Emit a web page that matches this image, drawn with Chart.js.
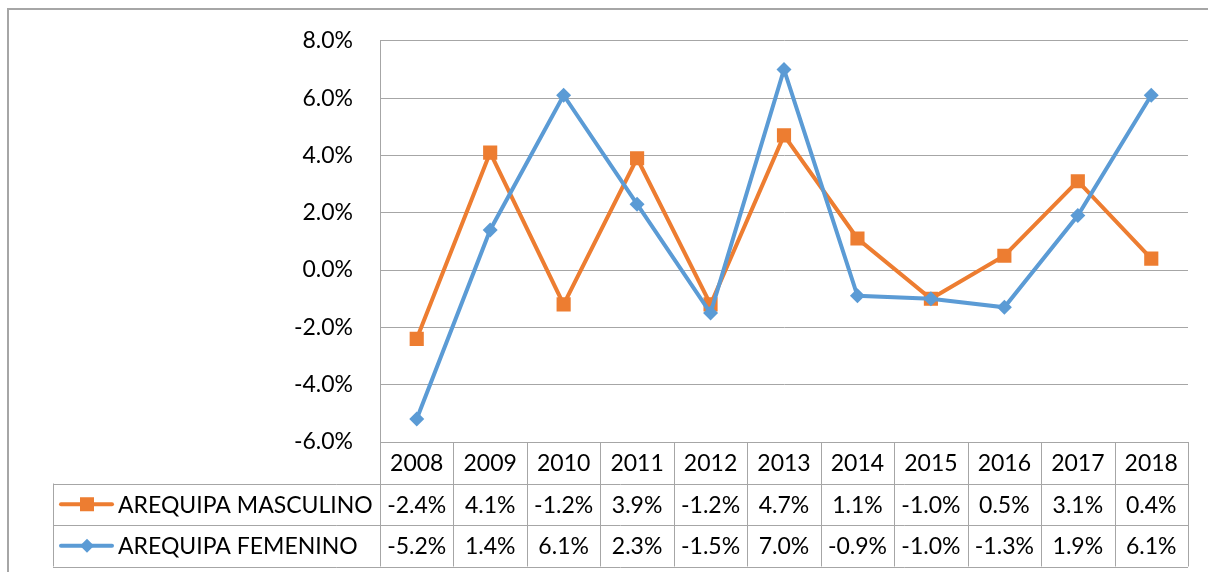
<!DOCTYPE html>
<html>
<head>
<meta charset="utf-8">
<script src="https://cdn.jsdelivr.net/npm/chart.js@4.4.1/dist/chart.umd.min.js"></script>
<style>
  html, body { margin: 0; padding: 0; background: #ffffff; }
  #wrap { width: 1208px; height: 572px; }
</style>
</head>
<body>
<div id="wrap"><canvas id="chart" width="1208" height="572"></canvas></div>
<script>
// Annual variation, Arequipa, by sex (percent)
const years = ['2008', '2009', '2010', '2011', '2012', '2013', '2014', '2015', '2016', '2017', '2018'];
const masculino = [-2.4, 4.1, -1.2, 3.9, -1.2, 4.7, 1.1, -1.0, 0.5, 3.1, 0.4];
const femenino = [-5.2, 1.4, 6.1, 2.3, -1.5, 7.0, -0.9, -1.0, -1.3, 1.9, 6.1];
const seriesNames = ['AREQUIPA MASCULINO', 'AREQUIPA FEMENINO'];

const ORANGE = '#ED7D31';
const BLUE = '#5B9BD5';
const GRID = '#a6a6a6';
const FONT = 'Lato, "Liberation Sans", sans-serif';
const FONT_SIZE = 23;

const pct = v => v.toFixed(1) + '%';

// Outer frame of the chart object
const framePlugin = {
  id: 'frame',
  beforeDraw(chart) {
    const ctx = chart.ctx;
    ctx.save();
    ctx.fillStyle = '#ffffff';
    ctx.fillRect(0, 0, chart.width, chart.height);
    ctx.fillStyle = '#a6a6a6';
    ctx.fillRect(7, 8, chart.width - 7, 2);
    ctx.fillRect(7, 8, 2, chart.height - 8);
    ctx.restore();
  }
};

// Data table under the plot, with legend keys in the first column
const tablePlugin = {
  id: 'dataTable',
  afterDraw(chart) {
    const ctx = chart.ctx;
    const x = chart.scales.x;
    const area = chart.chartArea;
    const colW = (area.right - area.left) / years.length;
    const top = area.bottom;
    const rowH = 41.5;
    const rows = [top, top + rowH, top + 2 * rowH, top + 3 * rowH];
    const legendLeft = 53;

    ctx.save();
    ctx.strokeStyle = GRID;
    ctx.lineWidth = 1;
    ctx.beginPath();
    // horizontal rules
    ctx.moveTo(area.left, Math.round(rows[0]) + 0.5);
    ctx.lineTo(area.right, Math.round(rows[0]) + 0.5);
    for (let r = 1; r < rows.length; r++) {
      const y = Math.round(rows[r]) + 0.5;
      ctx.moveTo(legendLeft, y);
      ctx.lineTo(area.right, y);
    }
    // vertical rules
    for (let i = 0; i <= years.length; i++) {
      const cx = Math.round(area.left + i * colW) + 0.5;
      ctx.moveTo(cx, rows[0]);
      ctx.lineTo(cx, rows[3]);
    }
    ctx.moveTo(legendLeft + 0.5, rows[1]);
    ctx.lineTo(legendLeft + 0.5, rows[3]);
    ctx.stroke();

    ctx.fillStyle = '#000000';
    ctx.font = FONT_SIZE + 'px ' + FONT;
    ctx.textAlign = 'center';
    ctx.textBaseline = 'middle';
    years.forEach((yr, i) => {
      ctx.fillText(yr, x.getPixelForValue(i), (rows[0] + rows[1]) / 2 + 1);
    });
    const values = [masculino, femenino];
    values.forEach((arr, r) => {
      const cy = (rows[r + 1] + rows[r + 2]) / 2 + 1;
      arr.forEach((v, i) => {
        ctx.fillText(pct(v), x.getPixelForValue(i), cy);
      });
    });

    // legend keys
    const keyColors = [ORANGE, BLUE];
    seriesNames.forEach((name, r) => {
      const cy = (rows[r + 1] + rows[r + 2]) / 2;
      ctx.strokeStyle = keyColors[r];
      ctx.lineWidth = 4;
      ctx.lineCap = 'round';
      ctx.beginPath();
      ctx.moveTo(61, cy);
      ctx.lineTo(112, cy);
      ctx.stroke();
      ctx.fillStyle = keyColors[r];
      if (r === 0) {
        ctx.fillRect(87 - 7, cy - 7, 14, 14);
      } else {
        ctx.beginPath();
        ctx.moveTo(87, cy - 7);
        ctx.lineTo(94, cy);
        ctx.lineTo(87, cy + 7);
        ctx.lineTo(80, cy);
        ctx.closePath();
        ctx.fill();
      }
      ctx.fillStyle = '#000000';
      ctx.textAlign = 'left';
      ctx.fillText(name, 118, cy + 1);
    });
    ctx.restore();
  }
};

new Chart(document.getElementById('chart'), {
  type: 'line',
  data: {
    labels: years,
    datasets: [
      {
        label: seriesNames[0],
        data: masculino,
        borderColor: ORANGE,
        backgroundColor: ORANGE,
        borderWidth: 4,
        pointStyle: 'rect',
        pointRadius: 10,
        pointHoverRadius: 10,
        pointBorderWidth: 0,
        pointBackgroundColor: ORANGE,
        tension: 0,
        order: 2
      },
      {
        label: seriesNames[1],
        data: femenino,
        borderColor: BLUE,
        backgroundColor: BLUE,
        borderWidth: 4,
        pointStyle: 'rectRot',
        pointRadius: 7.5,
        pointHoverRadius: 7.5,
        pointBorderWidth: 0,
        pointBackgroundColor: BLUE,
        tension: 0,
        order: 1
      }
    ]
  },
  options: {
    responsive: false,
    animation: false,
    devicePixelRatio: 1,
    layout: { padding: { left: 0, right: 20, top: 39, bottom: 130 } },
    plugins: {
      legend: { display: false },
      tooltip: { enabled: false },
      title: { display: false }
    },
    scales: {
      x: {
        type: 'category',
        display: false,
        offset: true
      },
      y: {
        min: -6,
        max: 8,
        afterFit(scale) { scale.width = 380; },
        ticks: {
          stepSize: 2,
          padding: 27,
          color: '#000000',
          font: { family: FONT, size: FONT_SIZE },
          callback: v => pct(v)
        },
        grid: { color: GRID, lineWidth: 1, drawTicks: false },
        border: { display: true, color: GRID, width: 1 }
      }
    }
  },
  plugins: [framePlugin, tablePlugin]
});
</script>
</body>
</html>
